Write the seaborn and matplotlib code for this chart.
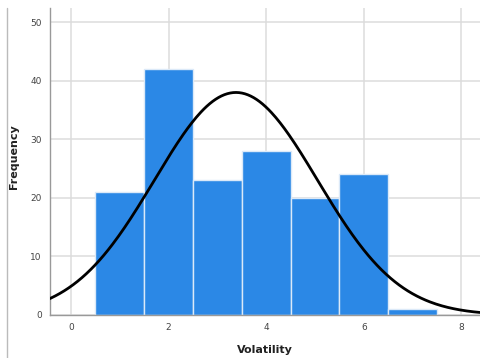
import numpy as np
import pandas as pd
import matplotlib
matplotlib.use("Agg")
import matplotlib.pyplot as plt
import seaborn as sns
from matplotlib.lines import Line2D

# Data
bin_centers = [1, 2, 3, 4, 5, 6, 7]
counts = [21, 42, 23, 28, 20, 24, 1]
bin_edges = [0.5, 1.5, 2.5, 3.5, 4.5, 5.5, 6.5, 7.5]
fit_mean = 3.38
fit_sd = 1.67
x_ticks = [0, 2, 4, 6, 8]
y_ticks = [0, 10, 20, 30, 40, 50]

sns.set_theme(style="white")
plt.rcParams['font.family'] = ['DejaVu Sans']

fig = plt.figure(figsize=(4.81, 3.58), dpi=100)
ax = fig.add_axes([50/481, 43/358, 430/481, 307/358])

df = pd.DataFrame({"Volatility": bin_centers, "count": counts})
sns.histplot(data=df, x="Volatility", weights="count", bins=bin_edges,
             color="#2b88e6", alpha=1, edgecolor="#dbe9f8", linewidth=1.0, ax=ax, zorder=2)

n_total = sum(counts)
bw = bin_edges[1] - bin_edges[0]
xs = np.linspace(-0.5, 8.5, 300)
ys = n_total * bw * np.exp(-0.5 * ((xs - fit_mean) / fit_sd) ** 2) / (fit_sd * np.sqrt(2 * np.pi))
sns.lineplot(x=xs, y=ys, color="black", linewidth=2.0, ax=ax, zorder=3)

ax.set_xlim(-0.43, 8.38)
ax.set_ylim(0, 52.4)
ax.set_xticks(x_ticks)
ax.set_yticks(y_ticks)
ax.grid(True, color="#dcdcdc", linewidth=1.1, zorder=0)
ax.set_axisbelow(True)
ax.tick_params(axis="both", length=0, labelsize=6.5, labelcolor="#444444", pad=6)
for s in ["top", "right"]:
    ax.spines[s].set_visible(False)
for s in ["left", "bottom"]:
    ax.spines[s].set_color("#999999")
    ax.spines[s].set_linewidth(1.0)

ax.set_xlabel("Volatility", fontsize=8, fontweight="bold", color="#222222")
ax.set_ylabel("Frequency", fontsize=8, fontweight="bold", color="#222222")
ax.xaxis.set_label_coords((265 - 50) / 430, -(345 - 315) / 307)
ax.yaxis.set_label_coords((19 - 50) / 430, (315 - 157) / 307)

fig.add_artist(Line2D([7/481, 7/481], [0, 350/358], color="#bbbbbb", linewidth=1.0,
                      transform=fig.transFigure))

fig.savefig("out.png", dpi=100)
